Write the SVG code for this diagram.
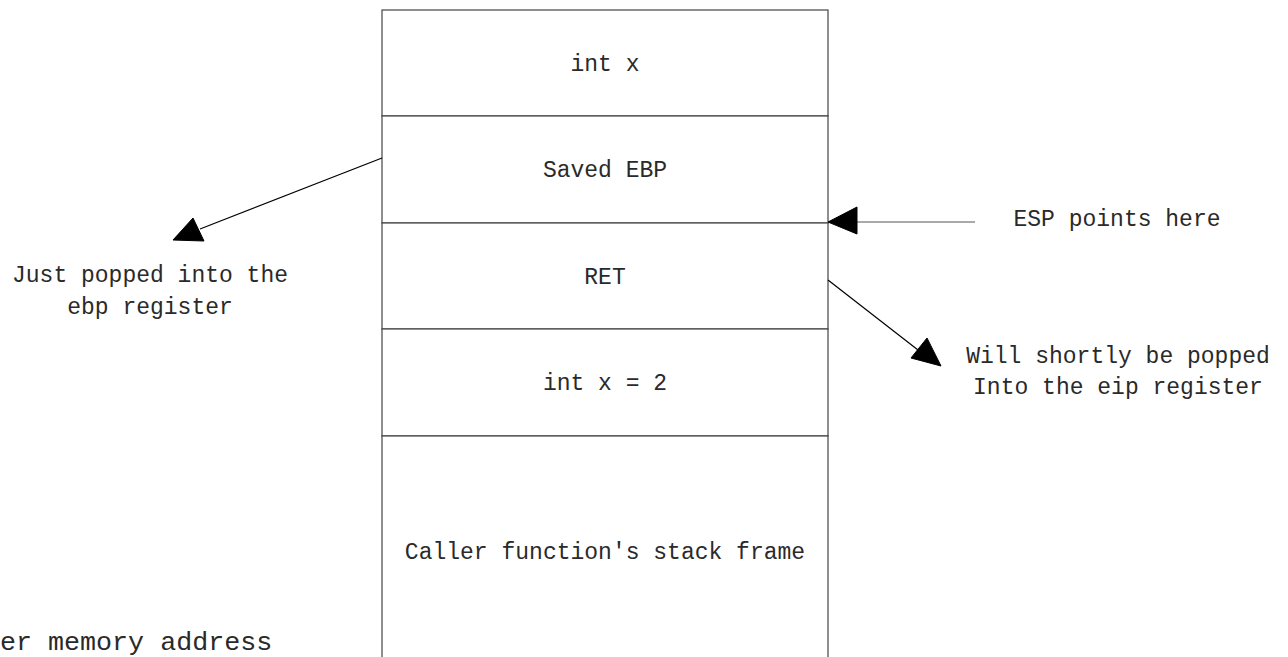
<svg xmlns="http://www.w3.org/2000/svg" width="1288" height="657" viewBox="0 0 1288 657">
<style>
text{font-family:"Liberation Mono","Courier New",monospace;font-size:23px;fill:#2a2a2a}
.c{text-anchor:middle}
.big{font-size:26.7px}
.box{fill:#fff;stroke:#444;stroke-width:1.2}
.ln{stroke:#000;stroke-width:1.2;fill:none}
.hd{fill:#000;stroke:#000}
</style>
<rect width="1288" height="657" fill="#fff"/>
<g id="frame-int-x"><rect class="box" x="382" y="10" width="446" height="106"/><text class="c" x="605" y="71">int x</text></g>
<g id="frame-saved-ebp"><rect class="box" x="382" y="116" width="446" height="107"/><text class="c" x="605" y="177">Saved EBP</text></g>
<g id="frame-ret"><rect class="box" x="382" y="223" width="446" height="106"/><text class="c" x="605" y="284">RET</text></g>
<g id="frame-int-x2"><rect class="box" x="382" y="329" width="446" height="107"/><text class="c" x="605" y="390">int x = 2</text></g>
<g id="frame-caller"><rect class="box" x="382" y="436" width="446" height="240"/><text class="c" x="605" y="559">Caller function's stack frame</text></g>
<g id="label-ebp"><text class="c" x="150" y="282">Just popped into the</text><text class="c" x="150" y="314">ebp register</text></g>
<g id="label-esp"><text class="c" x="1117" y="226">ESP points here</text></g>
<g id="label-eip"><text class="c" x="1118" y="363">Will shortly be popped</text><text class="c" x="1118" y="394">Into the eip register</text></g>
<g id="label-mem"><text class="big" x="0" y="650">er memory address</text></g>
<g id="connectors">
<line class="ln" x1="382" y1="158" x2="200" y2="229"/>
<polygon class="hd" points="173,240 193,218 204,241"/>
<line x1="975" y1="222" x2="855" y2="222" stroke="#555" stroke-width="1.2"/>
<polygon class="hd" points="828,222 857,207 857,234"/>
<line class="ln" x1="828" y1="280" x2="918" y2="350"/>
<polygon class="hd" points="941,366 927,338 911,358"/>
</g>
</svg>
